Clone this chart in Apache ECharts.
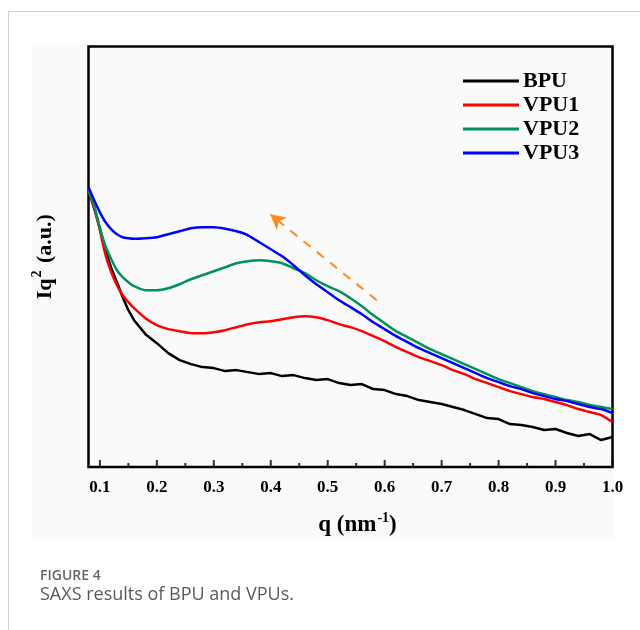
<!DOCTYPE html>
<html>
<head>
<meta charset="utf-8">
<script src="https://cdn.jsdelivr.net/npm/echarts@6/dist/echarts.min.js"></script>
<style>
html,body{margin:0;padding:0;background:#ffffff;}
#chart{width:640px;height:630px;}
</style>
</head>
<body>
<div id="chart"></div>
<script>
// q values (nm^-1)
const qValues = [0.08,0.09,0.10,0.11,0.12,0.13,0.14,0.15,0.16,
  0.18,0.20,0.22,0.24,0.26,0.28,0.30,0.32,0.34,0.36,
  0.38,0.40,0.42,0.44,0.46,0.48,0.50,0.52,0.54,0.56,
  0.58,0.60,0.62,0.64,0.66,0.68,0.70,0.72,0.74,0.76,
  0.78,0.80,0.82,0.84,0.86,0.88,0.90,0.92,0.94,0.96,
  0.98,1.00];
// Iq^2 (arbitrary units)
const bpu = [277,259,239,217,199,185,170,157,147,
  133,124,114,107,103,100,99,96,97,95,
  93,94,91,92,89,87,88,84,82,83,
  78,77,73,71,67,65,63,60,57,53,
  49,48,43,42,40,37,38,34,31,33,
  27,30];
const vpu1 = [277,260,237,212,195,182,172,165,159,
  149,142,138,136,134,134,135,137,140,143,
  145,146,148,150,151,150,147,143,140,136,
  131,126,120,115,110,106,102,97,93,88,
  84,80,76,73,70,68,65,62,58,55,
  52,45];
const vpu2 = [277,262,239,221,208,197,190,185,181,
  177,177,179,183,188,192,196,200,204,206,
  207,206,204,199,194,187,181,176,169,161,
  152,144,136,130,124,118,113,108,103,98,
  93,88,84,80,76,73,70,67,65,62,
  60,58];
const vpu3 = [280,267,255,245,238,233,230,229,228.5,
  229,230,233,236,239,240,240,238.5,236,232,
  225,218,211,202,192,183,175,167,160,153,
  145,138,131,125,119,114,109,104,99,94,
  89,85,81,78,74,71,68,66,63,60,
  58,54];
const seriesNames = ['BPU','VPU1','VPU2','VPU3'];
const seriesColors = ['#000000','#ff0000','#00925a','#0000ff'];
const majorTicks = [0.1,0.2,0.3,0.4,0.5,0.6,0.7,0.8,0.9,1.0];
const minorTicks = [0.15,0.25,0.35,0.45,0.55,0.65,0.75,0.85,0.95];
// trend arrow (tail -> head) in data units
const arrowTail = [0.586,167];
const arrowHead = [0.399,253];

const serif = '"Liberation Serif","Times New Roman",serif';
const chart = echarts.init(document.getElementById('chart'), null, {renderer:'canvas'});
const allSeries = [bpu, vpu1, vpu2, vpu3];

const series = allSeries.map((vals, i) => ({
  name: seriesNames[i],
  type: 'line',
  xAxisIndex: 0,
  data: qValues.map((q, k) => [q, vals[k]]),
  showSymbol: false,
  smooth: i === 0 ? false : 0.2,
  lineStyle: {color: seriesColors[i], width: 2.5},
  itemStyle: {color: seriesColors[i]},
  z: 3 + i
}));
series.push({
  name: 'arrow',
  type: 'line',
  data: [],
  markLine: {
    silent: true,
    symbol: ['none','arrow'],
    symbolSize: [12,15],
    label: {show: false},
    lineStyle: {color: '#ff8c1a', width: 2, type: [9,8]},
    data: [[{coord: arrowTail}, {coord: arrowHead}]]
  }
});
// axis tick marks drawn through the x scale (major / minor)
series.push({
  name: 'majorTicks', type: 'scatter', silent: true, clip: false, z: 10,
  symbol: 'rect', symbolSize: [2, 7], symbolOffset: [0, -3.5],
  itemStyle: {color: '#000'},
  data: majorTicks.map(v => [v, 0])
});
series.push({
  name: 'minorTicks', type: 'scatter', silent: true, clip: false, z: 10,
  symbol: 'rect', symbolSize: [2, 4], symbolOffset: [0, -2],
  itemStyle: {color: '#000'},
  data: minorTicks.map(v => [v, 0])
});

chart.setOption({
  animation: false,
  backgroundColor: '#ffffff',
  graphic: [
    {type:'rect', z:-10, shape:{x:32,y:44,width:583,height:496}, style:{fill:'#fafafa'}},
    {type:'line', z:-5, shape:{x1:8,y1:11.5,x2:640,y2:11.5}, style:{stroke:'#cfcfcf',lineWidth:1}},
    {type:'line', z:-5, shape:{x1:8.5,y1:11,x2:8.5,y2:630}, style:{stroke:'#cfcfcf',lineWidth:1}},
    {type:'text', left:40, top:569, style:{text:'FIGURE 4', fill:'#666666', font:'600 14px "Open Sans", sans-serif'}},
    {type:'text', left:40, top:586, style:{text:'SAXS results of BPU and VPUs.', fill:'#5a5a5a', font:'18px "Open Sans", sans-serif'}}
  ],
  grid: {
    left: 88.5, right: 27.5, top: 46.5, bottom: 163,
    show: true, borderColor: '#000000', borderWidth: 2.5, backgroundColor: 'transparent'
  },
  legend: {
    data: seriesNames,
    orient: 'vertical',
    left: 463, top: 70,
    padding: 0,
    icon: 'rect',
    itemWidth: 56, itemHeight: 3,
    itemGap: 2,
    textStyle: {fontFamily: serif, fontWeight: 'bold', fontSize: 22, color: '#000', lineHeight: 22, padding: [0,0,0,-1]}
  },
  xAxis: [
    {
      type: 'value', min: 0.08, max: 1.0,
      name: '{a|q (nm}{s|-1}{a|)}',
      nameLocation: 'middle', nameGap: 44,
      nameTextStyle: {
        padding: [0,0,0,14],
        rich: {
          a: {fontFamily: serif, fontWeight: 'bold', fontSize: 23, color: '#000', lineHeight: 26, verticalAlign: 'bottom'},
          s: {fontFamily: serif, fontWeight: 'bold', fontSize: 14, color: '#000', lineHeight: 26, verticalAlign: 'top', padding: [0,0,0,1]}
        }
      },
      axisLine: {show: false},
      splitLine: {show: false},
      axisTick: {show: false},
      axisLabel: {show: true, customValues: majorTicks, margin: 12, formatter: v => v.toFixed(1),
        fontFamily: serif, fontWeight: 'bold', fontSize: 17, color: '#000'}
    }
  ],
  yAxis: {
    type: 'value', min: 0, max: 421,
    name: '{a|Iq}{s|2}{a| (a.u.)}',
    nameLocation: 'middle', nameGap: 32,
    nameTextStyle: {
      rich: {
        a: {fontFamily: serif, fontWeight: 'bold', fontSize: 22, color: '#000', lineHeight: 26, verticalAlign: 'bottom'},
        s: {fontFamily: serif, fontWeight: 'bold', fontSize: 14, color: '#000', lineHeight: 26, verticalAlign: 'top', padding: [0,2,0,1]}
      }
    },
    axisLine: {show: false},
    axisTick: {show: false},
    axisLabel: {show: false},
    splitLine: {show: false}
  },
  series: series
});
</script>
</body>
</html>
